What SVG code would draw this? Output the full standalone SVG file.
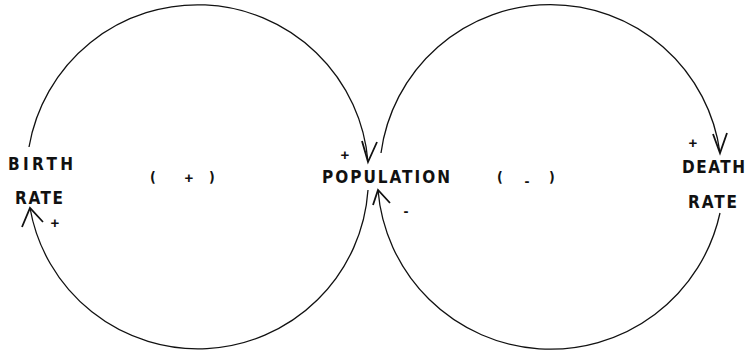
<svg xmlns="http://www.w3.org/2000/svg" width="753" height="355" viewBox="0 0 753 355">
<style>
.lbl{font-family:"DejaVu Sans Condensed","Liberation Sans",Arial,sans-serif;font-weight:bold;font-size:17px;fill:#111}
.sgn{font-family:"Liberation Sans",Arial,sans-serif;font-weight:bold;font-size:15px;fill:#111;text-anchor:middle}
.par{font-family:"DejaVu Sans Condensed","Liberation Sans",Arial,sans-serif;font-weight:bold;font-size:14px;fill:#111;text-anchor:middle}
.arc{fill:none;stroke:#111;stroke-width:1.3}
.head{fill:none;stroke:#111;stroke-width:1.8;stroke-linejoin:miter}
</style>
<rect width="753" height="355" fill="#fff"/>
<g id="connectors">
  <path class="arc" d="M 29 147 A 171 171 0 0 1 368 162"/>
  <polyline class="head" points="362,141 368,162 377,142"/>
  <path class="arc" d="M 368 190 A 170.5 170.5 0 0 1 30 208"/>
  <polyline class="head" points="22,227 30,208 43,222"/>
  <path class="arc" d="M 381 153 A 171 171 0 0 1 720 153"/>
  <polyline class="head" points="713,134 720,153 727,133"/>
  <path class="arc" d="M 720 213 A 173.3 173.3 0 0 1 378 190"/>
  <polyline class="head" points="373,205 378,190 390,203"/>
</g>
<g id="birth_rate">
  <text class="lbl" x="8" y="169.5" textLength="65" lengthAdjust="spacing">BIRTH</text>
  <text class="lbl" x="15" y="203.5" textLength="48" lengthAdjust="spacing">RATE</text>
</g>
<g id="population">
  <text class="lbl" x="322" y="182.5" textLength="128" lengthAdjust="spacing">POPULATION</text>
</g>
<g id="death_rate">
  <text class="lbl" x="682" y="173" textLength="63" lengthAdjust="spacing">DEATH</text>
  <text class="lbl" x="688" y="207.5" textLength="49" lengthAdjust="spacing">RATE</text>
</g>
<g id="polarities">
  <text class="sgn" x="345" y="160">+</text>
  <text class="sgn" x="55" y="228">+</text>
  <text class="sgn" x="693" y="148">+</text>
  <text class="sgn" x="406" y="216">-</text>
</g>
<g id="loop_positive">
  <text class="par" x="153" y="182">(</text>
  <text class="sgn" x="189" y="183">+</text>
  <text class="par" x="212" y="182">)</text>
</g>
<g id="loop_negative">
  <text class="par" x="500" y="182">(</text>
  <text class="sgn" x="527" y="186">-</text>
  <text class="par" x="552" y="182">)</text>
</g>
</svg>
